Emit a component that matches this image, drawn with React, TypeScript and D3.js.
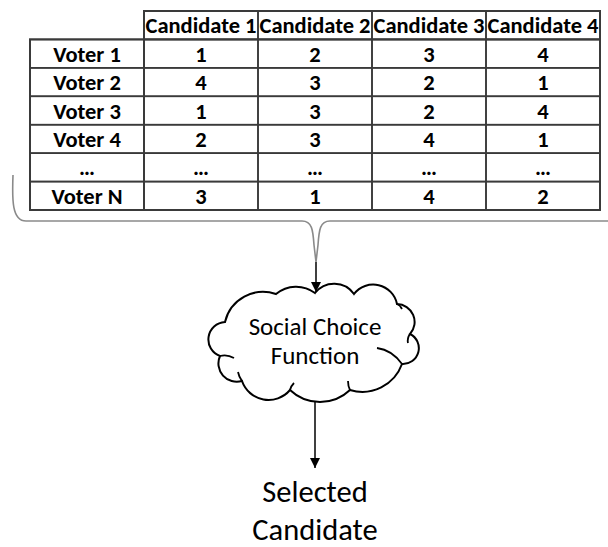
import React from "react";
import * as d3 from "d3";

const candidates = ["Candidate 1", "Candidate 2", "Candidate 3", "Candidate 4"];
const voters = ["Voter 1", "Voter 2", "Voter 3", "Voter 4", "…", "Voter N"];
const rankings = [
  ["1", "2", "3", "4"],
  ["4", "3", "2", "1"],
  ["1", "3", "2", "4"],
  ["2", "3", "4", "1"],
  ["…", "…", "…", "…"],
  ["3", "1", "4", "2"],
];
const functionLabel = ["Social Choice", "Function"];
const outputLabel = ["Selected", "Candidate"];

const FONT = "Carlito, Calibri, Lato, sans-serif";

// cloud outline: cusp points and lobe bulge factors (decoration geometry)
const cusps: [number, number][] = [
  [315, 293], [354, 294], [397, 304], [410, 334], [402, 364], [350, 390],
  [290, 390], [242, 381], [220, 356], [225, 322], [276, 294],
];
const lobeBulge = [1.25, 1.1, 1.1, 1.02, 1.45, 1.45, 1.15, 1.1, 1.02, 1.35, 1.6];

function cloudPath() {
  let d = `M${cusps[0][0]},${cusps[0][1]}`;
  for (let i = 0; i < cusps.length; i++) {
    const p = cusps[i];
    const q = cusps[(i + 1) % cusps.length];
    const chord = Math.hypot(q[0] - p[0], q[1] - p[1]);
    const r = (chord / 2) * lobeBulge[i];
    d += ` A${r.toFixed(2)},${r.toFixed(2)} 0 0 1 ${q[0]},${q[1]}`;
  }
  return d + "Z";
}

export default function App() {
  const W = 608, H = 547;
  const x = d3.scaleBand<string>().domain(["", ...candidates]).range([30, 600]);
  const y = d3.scaleBand<string>().domain(["head", ...voters]).range([11, 210]);
  const bw = x.bandwidth();
  const bh = y.bandwidth();
  const lineColor = "#3a3a3a";
  const fs = 22.5;

  const cx = 315;
  const cloud = cloudPath();

  const tip = 316;
  const braceY = 221;
  const brace = d3.path();
  brace.moveTo(13, 175);
  brace.bezierCurveTo(12, 200, 12, braceY, 26, braceY);
  brace.lineTo(302, braceY);
  brace.bezierCurveTo(312, braceY, 313, 230, 314, 245);
  brace.lineTo(316, 262);
  brace.moveTo(620, braceY);
  brace.lineTo(330, braceY);
  brace.bezierCurveTo(320, braceY, 319, 230, 318, 245);
  brace.lineTo(316, 262);

  const cellText = (tx: number, ty: number, s: string) => (
    <text x={tx} y={ty} textAnchor="middle" fontFamily={FONT} fontWeight="bold" fontSize={fs} fill="#000">
      {s}
    </text>
  );

  return (
    <svg width={W} height={H} style={{ display: "block", position: "absolute", left: 0, top: 0 }}>
      <rect width={W} height={H} fill="#fff" />
      <defs>
        <marker id="ah" viewBox="0 0 10 10" refX="10" refY="5" markerWidth="10" markerHeight="10" markerUnits="userSpaceOnUse" orient="auto">
          <path d="M0,0 L10,5 L0,10 Z" fill="#000" />
        </marker>
      </defs>
      {candidates.map((c) => (
        <g key={c}>
          <rect x={x(c)} y={y("head")} width={bw} height={bh} fill="none" stroke={lineColor} strokeWidth={1.6} />
          {cellText((x(c) as number) + bw / 2, (y("head") as number) + bh / 2 + 8, c)}
        </g>
      ))}
      {voters.map((v, i) => (
        <g key={v}>
          <rect x={x("")} y={y(v)} width={bw} height={bh} fill="none" stroke={lineColor} strokeWidth={1.6} />
          {cellText((x("") as number) + bw / 2, (y(v) as number) + bh / 2 + 8, v)}
          {candidates.map((c, j) => (
            <g key={c}>
              <rect x={x(c)} y={y(v)} width={bw} height={bh} fill="none" stroke={lineColor} strokeWidth={1.6} />
              {cellText((x(c) as number) + bw / 2, (y(v) as number) + bh / 2 + 8, rankings[i][j])}
            </g>
          ))}
        </g>
      ))}
      <rect x={30} y={y(voters[0])} width={570} height={210 - (y(voters[0]) as number)} fill="none" stroke={lineColor} strokeWidth={2} />
      <rect x={144} y={11} width={456} height={199} fill="none" stroke={lineColor} strokeWidth={2} />

      <path d={brace.toString()} fill="none" stroke="#8a8a8a" strokeWidth={1.6} />
      <line x1={tip} y1={262} x2={tip} y2={292} stroke="#000" strokeWidth={1.5} markerEnd="url(#ah)" />

      <path d={cloud} fill="#fff" stroke="#000" strokeWidth={2} />
      <g fill="none" stroke="#000" strokeWidth={1.8}>
        <path d="M220,356 Q227,354 234,358" />
        <path d="M402,364 Q392,350 377,348" />
        <path d="M397,304 Q400,305 402,309" />
        <path d="M410,334 Q407,338 408,343" />
        <path d="M242,381 Q239,377 238,372" />
        <path d="M290,390 Q291,386 294,383" />
        <path d="M350,390 Q348,386 348,381" />
      </g>
      <text x={cx} y={335} textAnchor="middle" fontFamily={FONT} fontSize={25} fill="#000">{functionLabel[0]}</text>
      <text x={cx} y={364} textAnchor="middle" fontFamily={FONT} fontSize={25} fill="#000">{functionLabel[1]}</text>

      <line x1={cx} y1={401} x2={cx} y2={468} stroke="#000" strokeWidth={1.5} markerEnd="url(#ah)" />
      <text x={cx} y={502} textAnchor="middle" fontFamily={FONT} fontSize={30.5} fill="#000">{outputLabel[0]}</text>
      <text x={cx} y={540} textAnchor="middle" fontFamily={FONT} fontSize={30.5} fill="#000">{outputLabel[1]}</text>
    </svg>
  );
}
